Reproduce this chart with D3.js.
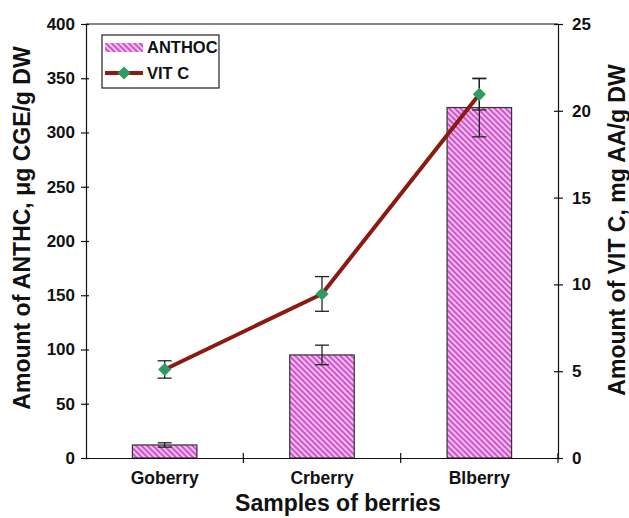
<!DOCTYPE html>
<html>
<head>
<meta charset="utf-8">
<script src="https://cdn.jsdelivr.net/npm/d3@7"></script>
<style>
  body { margin: 0; background: #fff; }
  text { font-family: "Liberation Sans", Arial, sans-serif; font-weight: bold; fill: #111; }
</style>
</head>
<body>
<div id="chart"></div>
<script>
// data
const samples = ['Goberry', 'Crberry', 'Blberry'];
const anthoc = [12, 95, 323];
const anthocErr = [2, 9, 27];
const vitC = [5.1, 9.45, 20.95];
const vitCErr = [0.5, 1.0, 0.9];
const leftTicks = [0, 50, 100, 150, 200, 250, 300, 350, 400];
const rightTicks = [0, 5, 10, 15, 20, 25];

const width = 629, height = 518;
const m = { top: 24, right: 71, bottom: 60, left: 86 };

const svg = d3.select('#chart').append('svg')
  .attr('width', width)
  .attr('height', height);

// hatch for bars
const defs = svg.append('defs');
const pat = defs.append('pattern')
  .attr('id', 'hatch')
  .attr('patternUnits', 'userSpaceOnUse')
  .attr('width', 4).attr('height', 4)
  .attr('patternTransform', 'rotate(-45)');
pat.append('rect').attr('width', 4).attr('height', 4).attr('fill', '#f4bff0');
pat.append('rect').attr('width', 2).attr('height', 4).attr('fill', '#cf55cc');

const x = d3.scaleBand()
  .domain(samples)
  .range([m.left, width - m.right]);

const yL = d3.scaleLinear().domain([0, 400]).range([height - m.bottom, m.top]);
const yR = d3.scaleLinear().domain([0, 25]).range([height - m.bottom, m.top]);

const bw = x.bandwidth() * 0.41;
const g = svg.append('g');

//bars
g.selectAll('rect.bar')
  .data(samples)
  .join('rect')
  .attr('class', 'bar')
  .attr('x', d => x(d) + x.bandwidth() / 2 - bw / 2)
  .attr('y', (d, i) => yL(anthoc[i]))
  .attr('width', bw)
  .attr('height', (d, i) => yL(0) - yL(anthoc[i]))
  .attr('fill', 'url(#hatch)')
  .attr('stroke', '#333')
  .attr('stroke-width', 1.2);

// error bars helper
const errBar = (cx, yTop, yBot) => {
  g.append('line').attr('x1', cx).attr('x2', cx).attr('y1', yTop).attr('y2', yBot)
    .attr('stroke', '#222').attr('stroke-width', 1.3);
  [yTop, yBot].forEach(yy => {
    g.append('line').attr('x1', cx - 7).attr('x2', cx + 7).attr('y1', yy).attr('y2', yy)
      .attr('stroke', '#222').attr('stroke-width', 1.3);
  });
};

samples.forEach((s, i) => {
  const cx = x(s) + x.bandwidth() / 2;
  errBar(cx, yL(anthoc[i] + anthocErr[i]), yL(anthoc[i] - anthocErr[i]));
  errBar(cx, yR(vitC[i] + vitCErr[i]), yR(vitC[i] - vitCErr[i]));
});

// axes frame
const axisColor = '#111';
g.append('line').attr('x1', m.left).attr('x2', width - m.right)
  .attr('y1', m.top).attr('y2', m.top).attr('stroke', axisColor).attr('stroke-width', 1.2);

const left = svg.append('g')
  .attr('transform', `translate(${m.left},0)`)
  .call(d3.axisLeft(yL).tickValues(leftTicks).tickSize(5).tickPadding(6));
const right = svg.append('g')
  .attr('transform', `translate(${width - m.right},0)`)
  .call(d3.axisRight(yR).tickValues(rightTicks).tickSize(5).tickPadding(9));
const bottom = svg.append('g')
  .attr('transform', `translate(0,${height - m.bottom})`)
  .call(d3.axisBottom(x).tickSize(0).tickPadding(14));

[left, right, bottom].forEach(a => {
  a.select('.domain').attr('stroke', axisColor).attr('stroke-width', 1.2);
  a.selectAll('.tick line').attr('stroke', axisColor).attr('stroke-width', 1.2);
  a.selectAll('text').attr('font-size', 17).attr('font-family', '"Liberation Sans", Arial, sans-serif')
    .attr('font-weight', 'bold').attr('fill', '#111');
});
bottom.selectAll('text').attr('font-size', 17.5);
left.selectAll('.tick line').attr('x2', -5).attr('x1', 3);
right.selectAll('.tick line').attr('x1', -4).attr('x2', 5);

// category separator ticks
const sepTicks = samples.slice(1).map(s => x(s)).concat([x.range()[1]]);
g.selectAll('line.sep')
  .data(sepTicks)
  .join('line')
  .attr('class', 'sep')
  .attr('x1', d => d).attr('x2', d => d)
  .attr('y1', height - m.bottom - 5).attr('y2', height - m.bottom + 5)
  .attr('stroke', axisColor).attr('stroke-width', 1.2);

// vitamin C line
const line = d3.line()
  .x((d, i) => x(samples[i]) + x.bandwidth() / 2)
  .y(d => yR(d));
svg.append('path')
  .datum(vitC)
  .attr('d', line)
  .attr('fill', 'none')
  .attr('stroke', '#8b1a10')
  .attr('stroke-width', 4);

const diamond = d3.symbol().type(d3.symbolDiamond2).size(110);
svg.selectAll('path.pt')
  .data(vitC)
  .join('path')
  .attr('class', 'pt')
  .attr('d', diamond)
  .attr('transform', (d, i) => `translate(${x(samples[i]) + x.bandwidth() / 2},${yR(d)})`)
  .attr('fill', '#2e9a64');

// titles
svg.append('text')
  .attr('transform', 'translate(30,228) rotate(-90)')
  .attr('text-anchor', 'middle')
  .attr('font-size', 23)
  .text('Amount of ANTHC, \u03bcg CGE/g DW');
svg.append('text')
  .attr('transform', 'translate(625,230) rotate(-90)')
  .attr('text-anchor', 'middle')
  .attr('font-size', 23)
  .text('Amount of VIT C, mg AA/g DW');
svg.append('text')
  .attr('x', 338)
  .attr('y', 511)
  .attr('text-anchor', 'middle')
  .attr('font-size', 23)
  .text('Samples of berries');

// legend
const lg = svg.append('g').attr('transform', 'translate(102,35)');
lg.append('rect').attr('width', 117).attr('height', 53)
  .attr('fill', '#fff').attr('stroke', '#222').attr('stroke-width', 1.2);
lg.append('rect').attr('x', 3).attr('y', 8).attr('width', 38).attr('height', 9)
  .attr('fill', 'url(#hatch)');
lg.append('text').attr('x', 45).attr('y', 18).attr('font-size', 16.5).text('ANTHOC');
lg.append('line').attr('x1', 3).attr('x2', 41).attr('y1', 38).attr('y2', 38)
  .attr('stroke', '#8b1a10').attr('stroke-width', 4);
lg.append('path').attr('d', diamond).attr('transform', 'translate(22,38)').attr('fill', '#2e9a64');
lg.append('text').attr('x', 45).attr('y', 44).attr('font-size', 16.5).text('VIT C');
</script>
</body>
</html>
